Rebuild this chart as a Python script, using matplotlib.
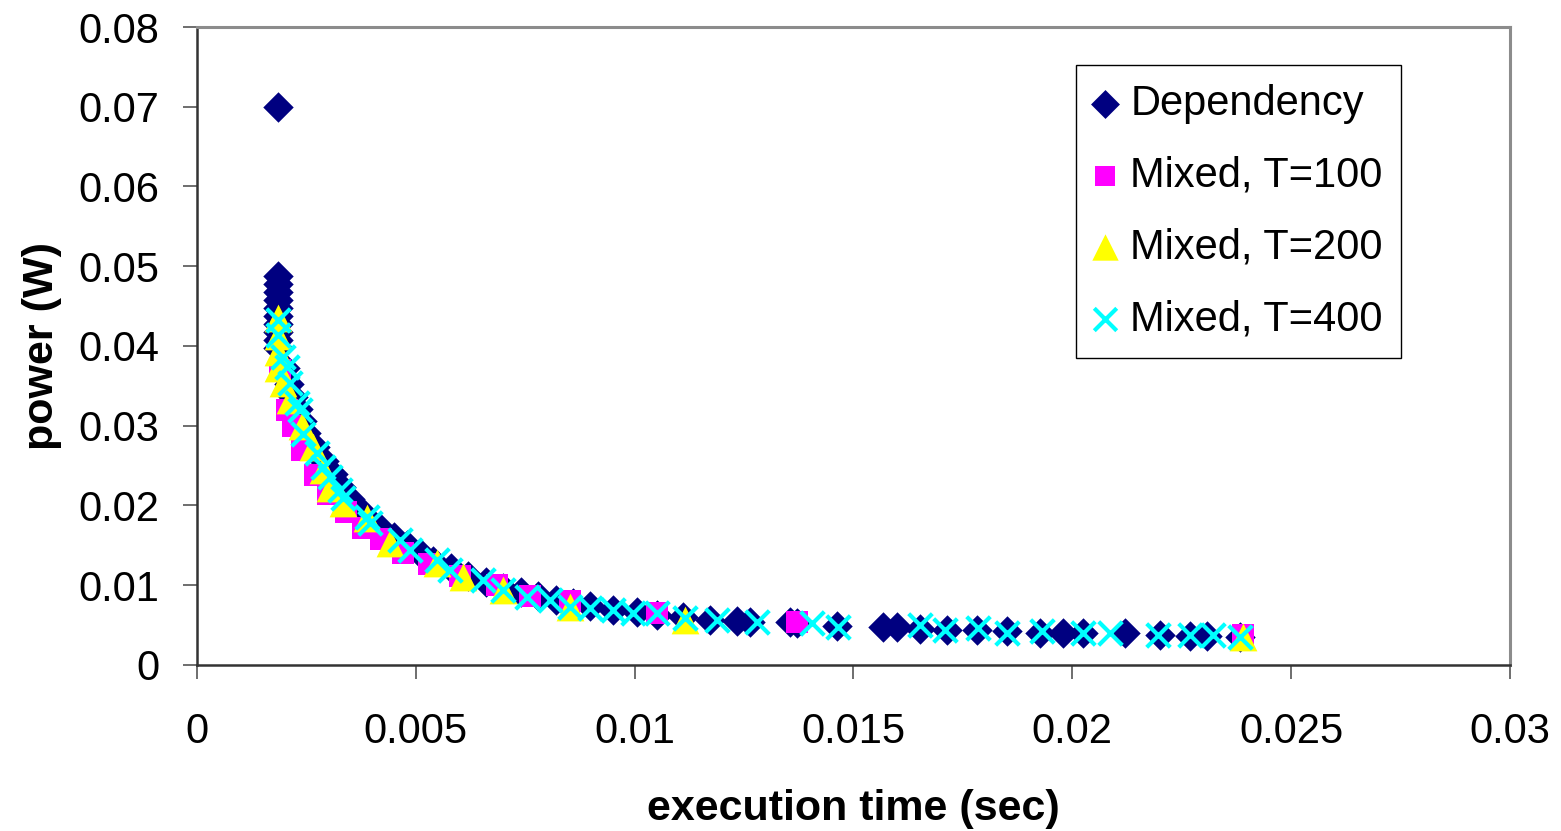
import matplotlib
matplotlib.use("Agg")
import matplotlib.pyplot as plt

plt.rcParams['font.family'] = ['Liberation Sans', 'DejaVu Sans']

# Dependency (navy diamonds)
dep_t = [0.00185,
         0.00185, 0.00185, 0.00185, 0.00185, 0.00185, 0.00185, 0.00185, 0.00185, 0.00185, 0.00185,
         0.0020, 0.0021, 0.0022, 0.0023, 0.0024, 0.0025, 0.0027, 0.0029, 0.0031, 0.0033,
         0.0035, 0.0037, 0.0039, 0.0042, 0.0045, 0.0048, 0.0051, 0.0054, 0.0058, 0.0062,
         0.0066, 0.0070, 0.0074, 0.0078, 0.0082, 0.0086,
         0.00898, 0.00950, 0.01005, 0.01051, 0.01110, 0.01172, 0.01234, 0.01264, 0.01355, 0.01371,
         0.01462, 0.01567, 0.01600, 0.01652, 0.01714, 0.01782, 0.01851, 0.01926, 0.01979, 0.02024,
         0.02120, 0.02200, 0.02269, 0.02308, 0.02383]
dep_p = [0.0700,
         0.0488, 0.0478, 0.0468, 0.0458, 0.0448, 0.0438, 0.0428, 0.0418, 0.0408, 0.0398,
         0.0372, 0.0352, 0.0336, 0.0321, 0.0306, 0.0291, 0.0273, 0.0256, 0.0240, 0.0223,
         0.0208, 0.0195, 0.0183, 0.0170, 0.0160, 0.0150, 0.0141, 0.0131, 0.0121, 0.0112,
         0.0104, 0.0097, 0.0091, 0.0086, 0.0082, 0.0078,
         0.0074, 0.0069, 0.0066, 0.0063, 0.0060, 0.0057, 0.0055, 0.0054, 0.0054, 0.0053,
         0.0049, 0.0048, 0.0047, 0.0045, 0.0044, 0.0044, 0.0042, 0.0040, 0.0040, 0.0040,
         0.0040, 0.0037, 0.0036, 0.0036, 0.0035]

# Mixed, T=100 (magenta squares)
m100_t = [0.0019, 0.00205, 0.0022, 0.0024, 0.0027, 0.0030, 0.0034, 0.0038, 0.0042,
          0.0047, 0.0053, 0.0060, 0.00685, 0.0076, 0.00852, 0.0105, 0.0137, 0.0239]
m100_p = [0.0370, 0.0320, 0.0300, 0.0270, 0.0238, 0.0215, 0.0192, 0.0172, 0.0158,
          0.0140, 0.0127, 0.0112, 0.0100, 0.0087, 0.0080, 0.0065, 0.0054, 0.0037]

# Mixed, T=200 (yellow triangles)
m200_t = [0.00185, 0.00185, 0.00185, 0.00185, 0.00197, 0.00213, 0.0024, 0.00265, 0.00288,
          0.00304, 0.00334, 0.00388, 0.0044, 0.00548, 0.00608, 0.0070, 0.00852, 0.01115, 0.0239]
m200_p = [0.0435, 0.0412, 0.0392, 0.0372, 0.0354, 0.0332, 0.0300, 0.0273, 0.0245,
          0.0222, 0.0203, 0.0184, 0.0153, 0.0128, 0.0110, 0.0094, 0.0073, 0.0056, 0.0035]

# Mixed, T=400 (cyan crosses)
m400_t = [0.00185, 0.00185, 0.00197, 0.00205, 0.00213, 0.00228, 0.00235, 0.00243, 0.00274,
          0.00288, 0.00304, 0.00327, 0.00334, 0.00388, 0.00395, 0.00464, 0.00487, 0.00548,
          0.00578, 0.00653, 0.0070, 0.00754, 0.00807, 0.00852, 0.00898, 0.0095, 0.00996,
          0.0105, 0.01115, 0.01188, 0.0128, 0.01405, 0.01465, 0.01652, 0.01709, 0.01785,
          0.0185, 0.01930, 0.02024, 0.02086, 0.02196, 0.02269, 0.02321, 0.02383]
m400_p = [0.0433, 0.0414, 0.0386, 0.0374, 0.0354, 0.0328, 0.0320, 0.0290, 0.0266,
          0.0248, 0.0236, 0.0220, 0.0210, 0.0186, 0.0178, 0.0157, 0.0144, 0.0132,
          0.0119, 0.0107, 0.0094, 0.0085, 0.0081, 0.0073, 0.0071, 0.0069, 0.0065,
          0.0065, 0.0059, 0.0056, 0.0054, 0.0053, 0.0048, 0.0050, 0.0044, 0.0046,
          0.0040, 0.0042, 0.0040, 0.0040, 0.0038, 0.0038, 0.0038, 0.0035]

xticks = [0, 0.005, 0.01, 0.015, 0.02, 0.025, 0.03]
xtick_labels = ['0', '0.005', '0.01', '0.015', '0.02', '0.025', '0.03']
yticks = [0, 0.01, 0.02, 0.03, 0.04, 0.05, 0.06, 0.07, 0.08]
ytick_labels = ['0', '0.01', '0.02', '0.03', '0.04', '0.05', '0.06', '0.07', '0.08']

fig = plt.figure(figsize=(15.61, 8.31), dpi=100)
ax = fig.add_axes([0.1262, 0.1998, 0.8411, 0.7677])

ax.scatter(dep_t, dep_p, marker='D', s=15.5 ** 2, color='#000080', linewidths=0,
           label='Dependency', zorder=2)
ax.scatter(m100_t, m100_p, marker='s', s=15.5 ** 2, color='#FF00FF', linewidths=0,
           label='Mixed, T=100', zorder=3)
ax.scatter(m200_t, m200_p, marker='^', s=20 ** 2, color='#FFFF00', linewidths=0,
           label='Mixed, T=200', zorder=4)
ax.scatter(m400_t, m400_p, marker='x', s=17 ** 2, color='#00FFFF', linewidths=3,
           label='Mixed, T=400', zorder=5)

ax.set_xlim(0, 0.03)
ax.set_ylim(0, 0.08)
ax.set_xticks(xticks)
ax.set_xticklabels(xtick_labels)
ax.set_yticks(yticks)
ax.set_yticklabels(ytick_labels)
ax.tick_params(axis='both', labelsize=30, direction='out', length=10, width=1.2,
               color='#555555')
ax.tick_params(axis='x', pad=24)
ax.tick_params(axis='y', pad=17)

for side in ['left', 'bottom']:
    ax.spines[side].set_color('#333333')
    ax.spines[side].set_linewidth(1.8)
for side in ['top', 'right']:
    ax.spines[side].set_color('#8c8c8c')
    ax.spines[side].set_linewidth(2.2)

ax.set_xlabel('execution time (sec)', fontsize=31, fontweight='bold')
ax.set_ylabel('power (W)', fontsize=31, fontweight='bold')
ax.xaxis.set_label_coords(0.5, -0.195)
ax.yaxis.set_label_coords(-0.103, 0.5)

leg = ax.legend(loc='upper left', bbox_to_anchor=(0.6695, 0.940), fontsize=30,
                frameon=True, fancybox=False, edgecolor='black', framealpha=1,
                handlelength=0.5, handletextpad=0.35, labelspacing=0.76,
                borderpad=0.45, borderaxespad=0, scatterpoints=1, markerscale=0.95)
leg.get_frame().set_linewidth(1.0)

plt.savefig('out.png', dpi=100)
